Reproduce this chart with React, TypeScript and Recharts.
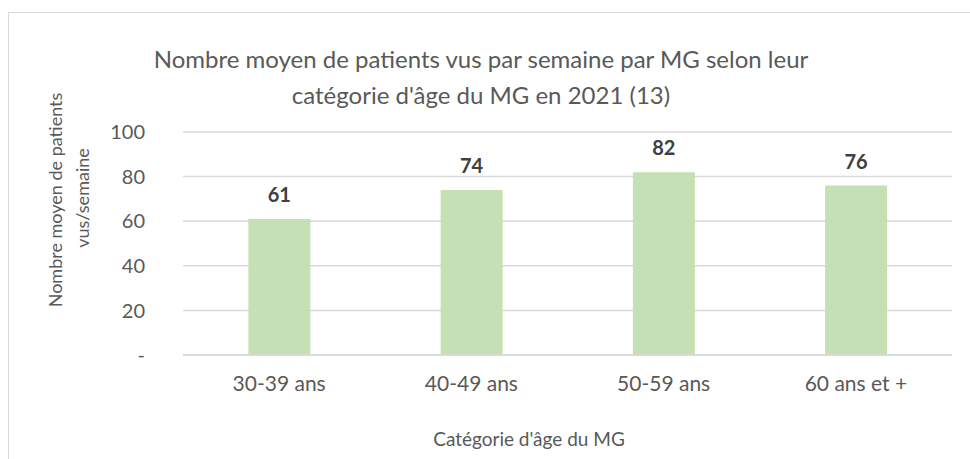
import React from "react";
import { BarChart, Bar, XAxis, YAxis, CartesianGrid, LabelList } from "recharts";

const categories = ["30-39 ans", "40-49 ans", "50-59 ans", "60 ans et +"];
const patientsPerWeek = [61, 74, 82, 76];
const yTicks = [0, 20, 40, 60, 80, 100];
const titleLines = [
  "Nombre moyen de patients vus par semaine par MG selon leur",
  "catégorie d'âge du MG en 2021 (13)",
];
const yLabelLines = ["Nombre moyen de patients", "vus/semaine"];
const xLabel = "Catégorie d'âge du MG";

const data = categories.map((c, i) => ({ name: c, value: patientsPerWeek[i] }));

const FONT = "Lato, 'Open Sans', sans-serif";
const TEXT = "#595959";

export default function App() {
  return (
    <div style={{ position: "absolute", left: 0, top: 0, width: 970, height: 459, overflow: "hidden", background: "#fff" }}>
      <div
        style={{
          position: "absolute",
          left: 8,
          top: 12,
          width: 1000,
          height: 500,
          border: "1.5px solid #d9d9d9",
          boxSizing: "border-box",
        }}
      />
      <div style={{ position: "absolute", left: 0, top: 0 }}>
        <BarChart
          width={970}
          height={459}
          data={data}
          margin={{ top: 132, right: 18, bottom: 0, left: 123 }}
          barCategoryGap="34%"
        >
          <CartesianGrid vertical={false} stroke="#d9d9d9" strokeWidth={1.5} />
          <XAxis
            dataKey="name"
            axisLine={{ stroke: "#d9d9d9", strokeWidth: 1.5 }}
            tickLine={false}
            tickSize={0}
            tickMargin={21}
            tick={{ fill: TEXT, fontSize: 21, fontFamily: FONT }}
            height={104}
          />
          <YAxis
            domain={[0, 100]}
            ticks={yTicks}
            axisLine={false}
            tickLine={false}
            tickSize={0}
            tickMargin={38}
            width={60}
            interval={0}
            tickFormatter={(v: number) => (v === 0 ? "-" : String(v))}
            tick={{ fill: TEXT, fontSize: 20, fontFamily: FONT }}
          />
          <Bar dataKey="value" fill="#c5e0b4" isAnimationActive={false}>
            <LabelList
              dataKey="value"
              position="top"
              offset={17}
              fill="#404040"
              fontSize={20}
              fontWeight="bold"
              fontFamily={FONT}
            />
          </Bar>
          <text x={481} y={68} textAnchor="middle" fill={TEXT} fontSize={24} fontFamily={FONT}>
            {titleLines[0]}
          </text>
          <text x={481} y={104} textAnchor="middle" fill={TEXT} fontSize={24} fontFamily={FONT}>
            {titleLines[1]}
          </text>
          <text
            x={0}
            y={0}
            transform="translate(62 200) rotate(-90)"
            textAnchor="middle"
            fill={TEXT}
            fontSize={18}
            fontFamily={FONT}
          >
            {yLabelLines[0]}
          </text>
          <text
            x={0}
            y={0}
            transform="translate(89 198) rotate(-90)"
            textAnchor="middle"
            fill={TEXT}
            fontSize={18}
            fontFamily={FONT}
          >
            {yLabelLines[1]}
          </text>
          <text x={529} y={446} textAnchor="middle" fill={TEXT} fontSize={19} fontFamily={FONT}>
            {xLabel}
          </text>
        </BarChart>
      </div>
    </div>
  );
}
